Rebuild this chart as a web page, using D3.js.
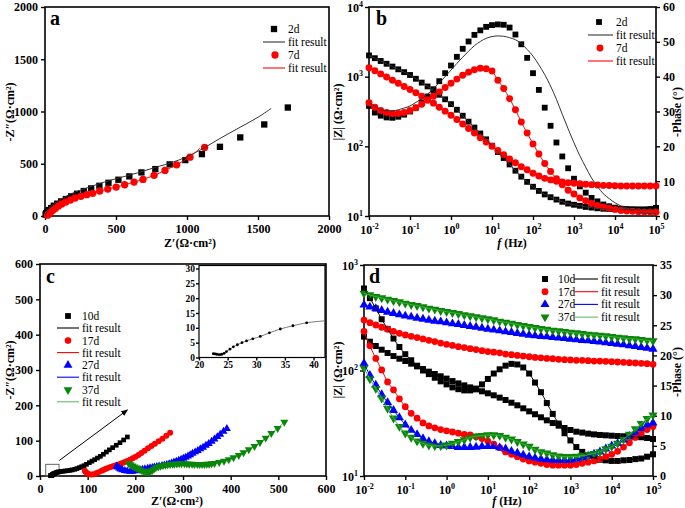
<!DOCTYPE html>
<html><head><meta charset="utf-8">
<script src="https://cdn.jsdelivr.net/npm/d3@7/dist/d3.min.js"></script>
<style>
body{margin:0;background:#fff;}
svg text{font-family:"Liberation Serif","Times New Roman",serif;fill:#000;}
</style></head><body>
<script>
// ================= DATA =================
// Panel a : Nyquist (Z', -Z'')
const a2d = [[1710,1038],[1544,876],[1375,752],[1232,662],[1105,592],[988,535],[878,494],[777,449],[679,417],[594,379],[517,347],[447,318],[383,289],[325,264],[273,239],[226,213],[184,188],[147,162],[114,140],[86,118],[62,98],[44,76],[27,57],[15,41],[8,26],[4,14]];
const a2dFit = [[0,0],[10,35],[30,75],[60,115],[100,150],[150,190],[210,228],[273,258],[340,290],[420,325],[517,363],[650,412],[777,465],[900,515],[988,561],[1105,640],[1232,742],[1375,850],[1500,945],[1593,1029]];
const a7d = [[1124,656],[1021,563],[927,490],[845,436],[768,389],[690,350],[627,325],[561,299],[501,277],[442,258],[385,239],[336,217],[294,204],[252,188],[212,172],[179,153],[146,134],[118,115],[95,96],[74,74],[55,54],[39,35],[27,19],[18,8]];
const a7dFit = [[12,0],[25,20],[40,38],[56,56],[75,76],[96,97],[120,117],[148,136],[180,155],[215,173],[255,189],[300,206],[340,220],[390,240],[445,259],[505,278],[565,300],[630,326],[692,352],[770,390],[847,437],[928,492],[1020,565],[1090,648]];
const aTicks = [0,500,1000,1500,2000];

// Panel b : Bode (2d, 7d)
const freqs = d3.range(50).map(i => Math.pow(10, -2 + i / 7)); // 7 points / decade sweep
const b2dMod = [2018,1841,1679,1531,1396,1274,1161,1057,933,822,724,631,550,473,403,335,275,226,186,153,126,102,83,68,55,44.7,36.7,30.9,26.3,22.9,20.4,18.6,17.2,16.0,15.1,14.5,14.0,13.5,13.2,12.9,12.7,12.6,12.5,12.4,12.4,12.4,12.3,12.3,12.3,13.0];
const b2dPh = [31.6,29.7,28.8,28.3,28.2,28.5,29.1,30.0,31.1,32.6,34.3,36.4,38.7,41.0,43.2,45.7,48.0,50.1,52.0,53.3,54.3,54.8,55.0,54.9,54.1,52.1,49.3,45.4,41.0,36.2,31.1,25.9,21.1,17.1,13.7,10.7,8.5,6.7,5.2,4.2,3.3,2.8,2.4,2.1,2.0,1.9,1.9,1.9,2.0,2.3];
const b2dPhFit = [32.8,31.4,30.6,30.2,30.2,30.5,31.0,31.6,32.6,33.7,35.0,36.6,38.3,40.0,41.9,43.8,45.6,47.3,48.9,50.1,51.0,51.5,51.7,51.6,51.2,50.6,49.5,47.8,45.9,43.4,40.6,37.3,33.5,29.2,25.0,21.0,17.3,14.0,10.9,8.5,6.4,5.0,3.8,2.9,2.1,1.5,1.1,0.9,0.7,0.6];
const b7dMod = [1346,1216,1096,989,891,804,724,653,589,525,468,417,365,320,279,243,209,180,155,133,115,100,87,76,66,58,51,46,41,37.6,34.7,33,31.6,30.8,30.1,29.5,29.0,28.6,28.2,27.9,27.5,27.4,27.2,27.0,26.9,26.9,26.9,26.9,26.9,26.9];
const b7dPh = [32.5,31.2,30.3,29.7,29.4,29.4,29.7,30.3,31.1,32.1,33.2,34.4,35.6,36.9,38.1,39.3,40.4,41.3,42.0,42.4,42.3,41.6,39.0,36.6,33.7,30.5,27.0,23.8,20.7,17.8,15.1,12.8,10.7,9.0,7.4,6.3,5.2,4.4,3.6,3.0,2.6,2.2,1.9,1.6,1.45,1.35,1.25,1.15,1.15,1.05];
const freqExp = [-2,-1,0,1,2,3,4,5];
const bModExp = [1,2,3,4];
const bPhTicks = [0,10,20,30,40,50,60];

// Panel c : Nyquist (10d, 17d, 27d, 37d)
const c10d = [[22.5,1.3],[22.8,1.2],[23.1,1.1],[23.4,1.0],[23.7,1.0],[24.0,1.1],[24.4,1.4],[24.8,2.0],[25.4,2.8],[26.0,3.6],[26.7,4.3],[27.5,5.0],[28.3,5.6],[29.4,6.3],[30.7,7.1],[32.3,8.3],[34.2,9.6],[36.4,10.7],[38.8,11.7],[43.4,12.6],[47.5,13.3],[52.4,14.2],[57.5,15],[63,16],[67.5,17.3],[72.7,18.9],[77.5,21],[82.5,23.6],[87.5,26.3],[92.3,29.2],[97.5,33],[103.5,37.7],[109,42],[114.7,46.2],[120.5,50.8],[126.6,55.6],[133,61.5],[139.2,67.9],[145.5,74],[152.4,80.2],[160,87],[167.8,94.3],[175.5,102],[183.3,110.4]];
const c17d = [[94,15],[96,11],[99,7.5],[103,5],[108,4],[113,5],[118,7.5],[123,11],[129.4,15],[134,18],[138.4,20.5],[143,23],[148,25.5],[153,27.5],[158,29.5],[163,31.8],[167.8,34],[173,37],[178,39.6],[183,42.5],[188.8,46],[194.5,50],[200.7,54.7],[206.5,59.5],[212.6,65],[219.5,71.5],[226.6,78.3],[233.8,85],[241,91.5],[249,98.5],[257,105.6],[265,114],[273,122.6]];
const c27d = [[161,28],[163,25],[166,22],[169,19.5],[173,17],[178,15],[183,13.5],[189,12.6],[194,13],[199,14.5],[205,16],[210,17.3],[215,18.7],[220,20],[226,21.5],[231,23],[236,24],[240,24.9],[245,26.3],[250,27.7],[256,29.2],[261,30.6],[266,32.4],[271,34.3],[276,36.6],[281,39],[286,41.5],[291,44],[296,46.8],[300.7,49.6],[305.5,52.8],[310.5,56],[315,59.8],[320,63.7],[325.5,67.8],[331,72],[336.5,76.5],[342,81],[348,86.3],[354,91.7],[360,97.8],[366,104],[372,111],[378,118],[385,126],[392,134]];
const c37d = [[186,35],[190,32],[194,29],[198,26],[202,23],[206,20],[210,17.5],[214,15],[218,13],[222,11.5],[227,11],[231,12.5],[235,15.5],[239,19.5],[243,23.6],[248,26],[253,28.2],[258,29.8],[263,31],[268,32.2],[273,33],[278,33.5],[282,34],[287,34.5],[292,35],[297,35],[303,35],[308,34.5],[313,34],[319,33.5],[324,33],[330,33],[335,33],[340,33],[345,33],[350,33.5],[355,34],[360,35],[366,36],[376,38.8],[386,42.5],[396,46.3],[406,52],[417,58.6],[427,66.1],[438,74.6],[450,84],[461.5,95.4],[473.4,107.6],[485.3,120.8],[498.6,134.9],[512.6,152.8]];
const cTicks = [0,100,200,300,400,500,600];
const insetXTicks = [20,25,30,35,40];
const insetYTicks = [0,5,10,15,20,25,30];
const cArrow = [[40.5,44],[183.5,187]];
const cBox = [[12,0],[40,33]];

// Panel d : Bode (10d, 17d, 27d, 37d)
const d10dMod = [209.4,187.5,170.6,157.4,146.6,137.1,129.4,123.0,116.1,109.4,103.3,97.5,92.7,88.1,83.8,79.4,75.5,72.3,69.2,66.2,63.5,60.8,58.2,55.3,52.5,49.5,46.8,43.8,41.0,38.5,36.0,33.7,31.8,30.0,28.5,27.3,26.3,25.8,25.2,24.8,24.5,24.3,24.1,23.9,23.8,23.6,23.4,23.3,22.9,22.4];
const d10dPh = [31.1,29.5,27.8,26.0,24.4,22.8,21.4,20.2,19.2,18.3,17.5,16.9,16.3,15.7,15.2,14.7,14.4,14.2,14.2,14.5,15.2,16.1,17.0,17.7,18.3,18.6,18.5,18.0,17.0,15.5,13.9,12.1,10.3,8.7,7.1,5.9,4.8,4.0,3.4,3.0,2.7,2.6,2.5,2.5,2.6,2.65,2.8,2.9,3.2,3.6];
const d17dMod = [301,284,270,257,246,235,225,217,211,205,199,193,188,182,177,173,168,165,161,158,154,151,149,147,143,141,139,137,135,133,132,130,129.5,127.6,126.7,125.8,124.9,124.9,124,123,123,122.2,121.3,120.4,119.5,118.6,117.8,116.9,116.1,114.4];
const d17dPh = [24.0,21.6,19.5,17.6,15.6,14.3,12.8,11.5,10.4,9.6,8.8,8.3,8.0,7.7,7.5,7.3,7.1,6.9,6.8,6.5,6.2,5.8,5.3,4.7,4.0,3.6,3.2,2.8,2.5,2.3,2.1,1.9,1.8,1.8,1.8,1.8,1.9,2.1,2.3,2.5,2.8,3.2,3.6,4.1,4.8,5.5,6.4,7.1,7.7,8.2];
const d27dMod = [418,400,386,372,358,348,338,329,321.5,314.5,307.7,301,294.6,290.4,284.1,277.9,273.9,268,262.2,258.4,252.8,247.4,242.1,238.6,233.5,230.1,225.1,221.8,217,213.9,210.8,209.3,206.3,203.3,201.8,198.9,196.0,193.2,191.8,189.0,186.3,183.6,180.9,178.3,175.8,171.9,169.4,165.8,163.4,159.9];
const d27dPh = [18.7,16.7,15.1,13.5,12.2,10.9,9.7,8.5,7.6,6.9,6.2,5.7,5.4,5.1,5.0,4.9,4.75,4.75,4.75,4.8,4.9,4.9,4.9,4.7,4.5,4.1,3.8,3.5,3.2,3.0,2.8,2.7,2.65,2.6,2.6,2.65,2.8,3.0,3.3,3.65,4.0,4.5,5.0,5.4,6.0,6.6,7.2,7.9,8.5,8.8];
const d37dMod = [539,519.5,501,486.7,472.8,459.2,446.1,433.3,420.8,411.7,399.9,388.5,380.1,369.2,361.3,353.4,345.8,335.9,328.8,321.6,314.6,307.8,301.1,292.4,286.1,279.9,271.9,266.1,260.3,254.7,249.2,245.6,240.3,236.8,233.5,230.1,226.8,223.5,220.3,217.0,215.5,212.3,209.3,206.3,203.3,200.3,198.9,196.0,193.2,190.4];
const d37dPh = [17.9,16.1,14.5,12.9,11.2,9.6,8.2,7.1,6.4,5.8,5.4,5.1,5.0,5.0,5.1,5.4,5.7,6.0,6.4,6.6,6.7,6.8,6.8,6.7,6.4,6.1,5.7,5.3,4.9,4.4,4.0,3.8,3.5,3.3,3.2,3.2,3.25,3.4,3.5,3.7,4.0,4.5,4.9,5.4,6.1,6.9,7.8,8.7,9.5,10.1];
const dModExp = [1,2,3];
const dPhTicks = [0,5,10,15,20,25,30,35];

// ================= LAYOUT =================
const W = 685, H = 508;
const PA = {x0:45, x1:329, y0:7, y1:216};
const PB = {x0:369, x1:656, y0:7, y1:216};
const PC = {x0:40, x1:326, y0:264, y1:476};
const PD = {x0:364, x1:653, y0:265, y1:476};
const PI = {x0:199, x1:325, y0:265.5, y1:357.5};
const RED = '#ff0000', BLUE = '#0000ff', GREEN = '#0a870a';
const LFS = 11.5; // legend font size

const svg = d3.select('body').append('svg').attr('width', W).attr('height', H);

const symType = t => t === 'square' ? d3.symbolSquare : t === 'circle' ? d3.symbolCircle : d3.symbolTriangle;
function marks(g, data, x, y, type, color, size) {
  g.append('g').selectAll('path').data(data).join('path')
    .attr('d', d3.symbol().type(symType(type)).size(size))
    .attr('transform', (d, i) => `translate(${x(d, i)},${y(d, i)})` + (type === 'down' ? ' rotate(180)' : ''))
    .attr('fill', color);
}
function curve(g, data, x, y, color, w, c) {
  g.append('path').datum(data)
    .attr('d', d3.line().x(x).y(y).curve(c || d3.curveCatmullRom.alpha(0.5)))
    .attr('fill', 'none').attr('stroke', color).attr('stroke-width', w || 1);
}
function frame(p, sw) {
  svg.append('rect').attr('x', p.x0).attr('y', p.y0).attr('width', p.x1 - p.x0).attr('height', p.y1 - p.y0)
    .attr('fill', 'none').attr('stroke', '#000').attr('stroke-width', sw || 1.6);
}
function styleAxis(g, fs) {
  g.select('.domain').remove();
  g.selectAll('.tick line').attr('stroke', '#000').attr('stroke-width', 1.4);
  g.selectAll('.tick text').attr('font-size', fs || 12).attr('font-weight', 'bold').attr('fill', '#000');
}
function logLabels(g, orient) {
  g.selectAll('.tick').each(function (d) {
    const e = Math.round(Math.log10(d));
    const t = d3.select(this).append('text').attr('font-size', 12).attr('font-weight', 'bold');
    if (orient === 'bottom') t.attr('y', 18).attr('text-anchor', 'middle');
    else t.attr('x', -6).attr('dy', '0.35em').attr('text-anchor', 'end');
    t.append('tspan').text('10');
    t.append('tspan').attr('font-size', 8).attr('dy', -5).text(e);
  });
}
function text(x, y, s, opt) {
  opt = opt || {};
  const t = svg.append('text').attr('x', x).attr('y', y).attr('font-size', opt.fs || 12)
    .attr('font-weight', opt.bold ? 'bold' : 'normal').attr('text-anchor', opt.anchor || 'start');
  if (opt.rot) t.attr('transform', `rotate(${opt.rot},${x},${y})`);
  if (opt.italic) t.attr('font-style', 'italic');
  t.text(s);
  return t;
}
function legendLine(x1, x2, y, color) {
  svg.append('line').attr('x1', x1).attr('x2', x2).attr('y1', y).attr('y2', y).attr('stroke', color).attr('stroke-width', 1.1);
}
function legendMark(x, y, type, color, size) {
  svg.append('path').attr('d', d3.symbol().type(symType(type)).size(size)())
    .attr('transform', `translate(${x},${y})` + (type === 'down' ? ' rotate(180)' : '')).attr('fill', color);
}
function clip(id, p) {
  svg.append('clipPath').attr('id', id).append('rect').attr('x', p.x0).attr('y', p.y0).attr('width', p.x1 - p.x0).attr('height', p.y1 - p.y0);
}

// ================= PANEL A =================
{
  const x = d3.scaleLinear().domain([0, 2000]).range([PA.x0, PA.x1]);
  const y = d3.scaleLinear().domain([0, 2000]).range([PA.y1, PA.y0]);
  frame(PA);
  styleAxis(svg.append('g').attr('transform', `translate(0,${PA.y1})`).call(d3.axisBottom(x).tickValues(aTicks).tickSize(4).tickPadding(4).tickFormat(d3.format('d'))));
  styleAxis(svg.append('g').attr('transform', `translate(${PA.x0},0)`).call(d3.axisLeft(y).tickValues(aTicks).tickSize(4).tickPadding(3).tickFormat(d3.format('d'))));
  clip('ca', PA);
  const g = svg.append('g');
  marks(g, a2d, d => x(d[0]), d => y(d[1]), 'square', '#000', 40);
  marks(g, a7d, d => x(d[0]), d => y(d[1]), 'circle', RED, 42);
  const gl = svg.append('g').attr('clip-path', 'url(#ca)');
  curve(gl, a2dFit, d => x(d[0]), d => y(d[1]), '#333', 1);
  curve(gl, a7dFit, d => x(d[0]), d => y(d[1]), RED, 1);
  text(50, 25, 'a', {fs: 20, bold: true});
  legendMark(274, 29, 'square', '#000', 40); text(288, 33, '2d', {fs: LFS});
  legendLine(263, 285, 42, '#333'); text(288, 46, 'fit result', {fs: LFS});
  legendMark(275, 55, 'circle', RED, 42); text(288, 59, '7d', {fs: LFS});
  legendLine(263, 285, 68, RED); text(288, 72, 'fit result', {fs: LFS});
  text(190, 247, "Z′(Ω·cm²)", {bold: true, anchor: 'middle', fs: 12});
  text(14, 112, "-Z″(Ω·cm²)", {bold: true, anchor: 'middle', rot: -90, fs: 12});
}

// ================= PANEL B =================
{
  const x = d3.scaleLog().domain([1e-2, 1e5]).range([PB.x0, PB.x1]);
  const yL = d3.scaleLog().domain([10, 1e4]).range([PB.y1, PB.y0]);
  const yR = d3.scaleLinear().domain([0, 60]).range([PB.y1, PB.y0]);
  frame(PB);
  const gx = svg.append('g').attr('transform', `translate(0,${PB.y1})`).call(d3.axisBottom(x).tickValues(freqExp.map(e => Math.pow(10, e))).tickSize(4).tickFormat(''));
  styleAxis(gx); logLabels(gx, 'bottom');
  const gy = svg.append('g').attr('transform', `translate(${PB.x0},0)`).call(d3.axisLeft(yL).tickValues(bModExp.map(e => Math.pow(10, e))).tickSize(4).tickFormat(''));
  styleAxis(gy); logLabels(gy, 'left');
  styleAxis(svg.append('g').attr('transform', `translate(${PB.x1},0)`).call(d3.axisRight(yR).tickValues(bPhTicks).tickSize(4).tickPadding(3)));
  clip('cb', PB);
  const g = svg.append('g');
  marks(g, b2dMod, (d, i) => x(freqs[i]), d => yL(d), 'square', '#000', 34);
  marks(g, b2dPh, (d, i) => x(freqs[i]), d => yR(d), 'square', '#000', 34);
  marks(g, b7dMod, (d, i) => x(freqs[i]), d => yL(d), 'circle', RED, 38);
  marks(g, b7dPh, (d, i) => x(freqs[i]), d => yR(d), 'circle', RED, 38);
  const gl = svg.append('g').attr('clip-path', 'url(#cb)');
  const mono = d3.curveMonotoneX;
  curve(gl, b2dMod, (d, i) => x(freqs[i]), d => yL(d), '#333', 1, mono);
  curve(gl, b2dPhFit, (d, i) => x(freqs[i]), d => yR(d), '#333', 1, mono);
  curve(gl, b7dMod, (d, i) => x(freqs[i]), d => yL(d), RED, 1, mono);
  curve(gl, b7dPh, (d, i) => x(freqs[i]), d => yR(d), RED, 1, mono);
  text(376, 25, 'b', {fs: 20, bold: true});
  legendMark(599, 22, 'square', '#000', 34); text(616, 26, '2d', {fs: LFS});
  legendLine(588, 613, 35, '#333'); text(616, 39, 'fit result', {fs: LFS});
  legendMark(600, 48, 'circle', RED, 38); text(616, 52, '7d', {fs: LFS});
  legendLine(588, 613, 61, RED); text(616, 65, 'fit result', {fs: LFS});
  const xt = text(512, 247, '', {bold: true, anchor: 'middle', fs: 12});
  xt.append('tspan').attr('font-style', 'italic').text('f');
  xt.append('tspan').text(' (Hz)');
  text(342, 112, "|Z| (Ω·cm²)", {bold: true, anchor: 'middle', rot: -90, fs: 12});
  text(681, 112, "-Phase (°)", {bold: true, anchor: 'middle', rot: -90, fs: 12});
}

// ================= PANEL C =================
{
  const x = d3.scaleLinear().domain([0, 600]).range([PC.x0, PC.x1]);
  const y = d3.scaleLinear().domain([0, 600]).range([PC.y1, PC.y0]);
  frame(PC);
  styleAxis(svg.append('g').attr('transform', `translate(0,${PC.y1})`).call(d3.axisBottom(x).tickValues(cTicks).tickSize(4).tickPadding(4)));
  styleAxis(svg.append('g').attr('transform', `translate(${PC.x0},0)`).call(d3.axisLeft(y).tickValues(cTicks).tickSize(4).tickPadding(3)));
  clip('cc', PC);
  // box + arrow annotations
  svg.append('rect').attr('x', x(cBox[0][0])).attr('y', y(cBox[1][1])).attr('width', x(cBox[1][0]) - x(cBox[0][0]))
    .attr('height', y(cBox[0][1]) - y(cBox[1][1])).attr('fill', 'none').attr('stroke', '#666').attr('stroke-width', 1);
  svg.append('defs').append('marker').attr('id', 'arr').attr('viewBox', '0 0 10 10').attr('refX', 9).attr('refY', 5)
    .attr('markerWidth', 7).attr('markerHeight', 7).attr('orient', 'auto')
    .append('path').attr('d', 'M0,1 L10,5 L0,9 Z').attr('fill', '#000');
  svg.append('line').attr('x1', x(cArrow[0][0])).attr('y1', y(cArrow[0][1])).attr('x2', x(cArrow[1][0])).attr('y2', y(cArrow[1][1]))
    .attr('stroke', '#000').attr('stroke-width', 1).attr('marker-end', 'url(#arr)');
  const gl = svg.append('g').attr('clip-path', 'url(#cc)');
  curve(gl, c10d, d => x(d[0]), d => y(d[1]), '#000', 1);
  curve(gl, c17d, d => x(d[0]), d => y(d[1]), RED, 1);
  curve(gl, c27d, d => x(d[0]), d => y(d[1]), BLUE, 1);
  curve(gl, c37d, d => x(d[0]), d => y(d[1]), '#44aa44', 1);
  const g = svg.append('g');
  marks(g, c10d, d => x(d[0]), d => y(d[1]), 'square', '#000', 22);
  marks(g, c17d, d => x(d[0]), d => y(d[1]), 'circle', RED, 28);
  marks(g, c27d, d => x(d[0]), d => y(d[1]), 'up', BLUE, 28);
  marks(g, c37d, d => x(d[0]), d => y(d[1]), 'down', GREEN, 28);
  text(46, 283, 'c', {fs: 20, bold: true});
  const lg = [['10d', 'square', '#000', '#000'], ['17d', 'circle', RED, RED], ['27d', 'up', BLUE, BLUE], ['37d', 'down', GREEN, '#66bb66']];
  lg.forEach((e, i) => {
    const yy = 316 + i * 24.6;
    legendMark(68, yy, e[1], e[2], 34); text(82, yy + 4, e[0], {fs: LFS});
    legendLine(57, 79, yy + 12, e[3]); text(82, yy + 16, 'fit result', {fs: LFS});
  });
  text(177, 505, "Z′(Ω·cm²)", {bold: true, anchor: 'middle', fs: 12});
  text(14, 370, "-Z″(Ω·cm²)", {bold: true, anchor: 'middle', rot: -90, fs: 12});

  // inset
  const xi = d3.scaleLinear().domain([20, 42]).range([PI.x0, PI.x1]);
  const yi = d3.scaleLinear().domain([0, 31]).range([PI.y1, PI.y0]);
  svg.append('rect').attr('x', PI.x0).attr('y', PI.y0).attr('width', PI.x1 - PI.x0).attr('height', PI.y1 - PI.y0)
    .attr('fill', '#fff').attr('stroke', '#000').attr('stroke-width', 1.2);
  styleAxis(svg.append('g').attr('transform', `translate(0,${PI.y1})`).call(d3.axisBottom(xi).tickValues(insetXTicks).tickSize(3).tickPadding(1)), 9.5);
  styleAxis(svg.append('g').attr('transform', `translate(${PI.x0},0)`).call(d3.axisLeft(yi).tickValues(insetYTicks).tickSize(3).tickPadding(1)), 9.5);
  svg.append('clipPath').attr('id', 'ci').append('rect').attr('x', PI.x0).attr('y', PI.y0).attr('width', PI.x1 - PI.x0).attr('height', PI.y1 - PI.y0);
  const gi = svg.append('g').attr('clip-path', 'url(#ci)');
  const ins = c10d.filter(d => d[0] <= 44);
  curve(gi, ins, d => xi(d[0]), d => yi(d[1]), '#777', 1);
  gi.append('g').selectAll('circle').data(ins.filter(d => d[0] < 42)).join('circle')
    .attr('cx', d => xi(d[0])).attr('cy', d => yi(d[1])).attr('r', 1.4).attr('fill', '#000');
}

// ================= PANEL D =================
{
  const x = d3.scaleLog().domain([1e-2, 1e5]).range([PD.x0, PD.x1]);
  const yL = d3.scaleLog().domain([10, 1000]).range([PD.y1, PD.y0]);
  const yR = d3.scaleLinear().domain([0, 35]).range([PD.y1, PD.y0]);
  frame(PD);
  const gx = svg.append('g').attr('transform', `translate(0,${PD.y1})`).call(d3.axisBottom(x).tickValues(freqExp.map(e => Math.pow(10, e))).tickSize(4).tickFormat(''));
  styleAxis(gx); logLabels(gx, 'bottom');
  const gy = svg.append('g').attr('transform', `translate(${PD.x0},0)`).call(d3.axisLeft(yL).tickValues(dModExp.map(e => Math.pow(10, e))).tickSize(4).tickFormat(''));
  styleAxis(gy); logLabels(gy, 'left');
  styleAxis(svg.append('g').attr('transform', `translate(${PD.x1},0)`).call(d3.axisRight(yR).tickValues(dPhTicks).tickSize(4).tickPadding(3)));
  clip('cd', PD);
  const series = [
    [d10dMod, d10dPh, 'square', '#000', '#000'],
    [d17dMod, d17dPh, 'circle', RED, RED],
    [d27dMod, d27dPh, 'up', BLUE, BLUE],
    [d37dMod, d37dPh, 'down', GREEN, '#3fae3f']
  ];
  const mono = d3.curveMonotoneX;
  const g = svg.append('g');
  series.forEach(s => {
    marks(g, s[0], (d, i) => x(freqs[i]), d => yL(d), s[2], s[3], 36);
    marks(g, s[1], (d, i) => x(freqs[i]), d => yR(d), s[2], s[3], 36);
  });
  const gl = svg.append('g').attr('clip-path', 'url(#cd)');
  series.forEach(s => {
    curve(gl, s[0], (d, i) => x(freqs[i]), d => yL(d), s[4], 1, mono);
    curve(gl, s[1], (d, i) => x(freqs[i]), d => yR(d), s[4], 1, mono);
  });
  text(369, 283, 'd', {fs: 20, bold: true});
  const lg = [['10d', 'square', '#000', '#000'], ['17d', 'circle', RED, RED], ['27d', 'up', BLUE, BLUE], ['37d', 'down', GREEN, '#66bb66']];
  lg.forEach((e, i) => {
    const yy = 279 + i * 12.7;
    legendMark(545, yy, e[1], e[2], 36); text(558, yy + 4, e[0], {fs: LFS});
    legendLine(574, 598, yy, e[3]); text(601, yy + 4, 'fit result', {fs: LFS});
  });
  const xt = text(507, 505, '', {bold: true, anchor: 'middle', fs: 12});
  xt.append('tspan').attr('font-style', 'italic').text('f');
  xt.append('tspan').text(' (Hz)');
  text(342, 370, "|Z| (Ω·cm²)", {bold: true, anchor: 'middle', rot: -90, fs: 12});
  text(681, 372, "-Phase (°)", {bold: true, anchor: 'middle', rot: -90, fs: 12});
}
</script>
</body></html>
